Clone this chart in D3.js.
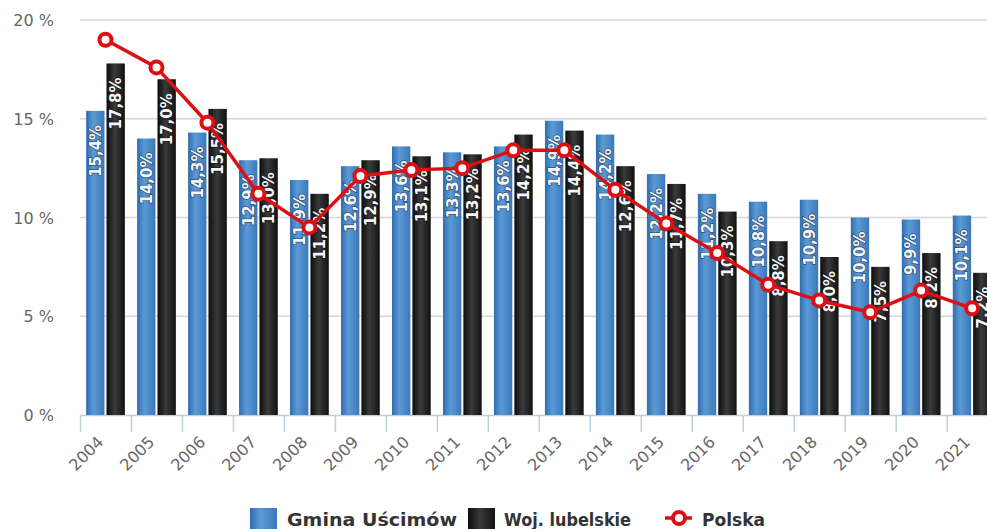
<!DOCTYPE html>
<html>
<head>
<meta charset="utf-8">
<script src="https://cdn.jsdelivr.net/npm/d3@7"></script>
<style>
  html, body { margin: 0; padding: 0; background: #fff; overflow: hidden; }
  svg { display: block; }
</style>
</head>
<body>
<svg id="chart" width="987" height="529"></svg>
<script>
const years = ["2004","2005","2006","2007","2008","2009","2010","2011","2012","2013","2014","2015","2016","2017","2018","2019","2020","2021"];
const gmina = [15.4,14.0,14.3,12.9,11.9,12.6,13.6,13.3,13.6,14.9,14.2,12.2,11.2,10.8,10.9,10.0,9.9,10.1];
const lubelskie = [17.8,17.0,15.5,13.0,11.2,12.9,13.1,13.2,14.2,14.4,12.6,11.7,10.3,8.8,8.0,7.5,8.2,7.2];
const polska = [19.0,17.6,14.8,11.2,9.5,12.1,12.4,12.5,13.4,13.4,11.4,9.7,8.2,6.6,5.8,5.2,6.3,5.4];
const yTicks = [0,5,10,15,20];
const seriesNames = ["Gmina Uścimów","Woj. lubelskie","Polska"];

const svg = d3.select("#chart");
const plotLeft = 80, plotTop = 20, plotBottom = 415;
const step = 50.98;
const x = d3.scaleBand().domain(years).range([plotLeft, plotLeft + step * years.length]).padding(0);
const xs = d3.scaleBand().domain(["g","w"]).range([0, x.bandwidth()]).paddingInner(0.1).paddingOuter(0.3);
const y = d3.scaleLinear().domain([0,20]).range([plotBottom, plotTop]);
const fmt = v => d3.format(".1f")(v).replace(".", ",") + "%";

const defs = svg.append("defs");
const gb = defs.append("linearGradient").attr("id","gBlue").attr("x1","0").attr("x2","1").attr("y1","0").attr("y2","0");
gb.append("stop").attr("offset","0%").attr("stop-color","#2f6db0");
gb.append("stop").attr("offset","40%").attr("stop-color","#5c9ad6");
gb.append("stop").attr("offset","100%").attr("stop-color","#3b78ba");
const gk = defs.append("linearGradient").attr("id","gBlack").attr("x1","0").attr("x2","1").attr("y1","0").attr("y2","0");
gk.append("stop").attr("offset","0%").attr("stop-color","#0d0d0d");
gk.append("stop").attr("offset","45%").attr("stop-color","#3a3a3a");
gk.append("stop").attr("offset","100%").attr("stop-color","#111");

// grid
svg.append("g").selectAll("line").data(yTicks.filter(d => d > 0)).join("line")
  .attr("x1", plotLeft).attr("x2", 1000)
  .attr("y1", d => y(d)).attr("y2", d => y(d))
  .attr("stroke", "#d6d6d6").attr("stroke-width", 1.5);

// y labels
svg.append("g").selectAll("text").data(yTicks).join("text")
  .attr("x", 54).attr("y", d => y(d) + 6)
  .attr("text-anchor", "end")
  .attr("font-family", "DejaVu Sans, sans-serif").attr("font-size", 16).attr("fill", "#666")
  .text(d => d + " %");

// x axis
const xa = svg.append("g");
xa.append("line").attr("x1", plotLeft).attr("x2", 1000).attr("y1", plotBottom + 0.5).attr("y2", plotBottom + 0.5)
  .attr("stroke", "#c0cfdd").attr("stroke-width", 1.5);
xa.selectAll("line.tick").data(years).join("line").attr("class","tick")
  .attr("x1", d => x(d) + 0.5).attr("x2", d => x(d) + 0.5)
  .attr("y1", plotBottom).attr("y2", plotBottom + 17)
  .attr("stroke", "#c0cfdd").attr("stroke-width", 1.5);
xa.selectAll("text").data(years).join("text")
  .attr("transform", d => `translate(${x(d) + x.bandwidth()/2 - 1},${plotBottom + 28}) rotate(-45)`)
  .attr("text-anchor", "end")
  .attr("font-family", "DejaVu Sans, sans-serif").attr("font-size", 16).attr("fill", "#666")
  .text(d => d);

// bars
const rows = years.map((yr, i) => ({ yr, g: gmina[i], w: lubelskie[i], p: polska[i] }));
const bars = svg.append("g");
const barData = rows.flatMap(r => [{ yr: r.yr, k: "g", v: r.g }, { yr: r.yr, k: "w", v: r.w }]);
bars.selectAll("rect").data(barData).join("rect")
  .attr("x", d => x(d.yr) + xs(d.k))
  .attr("width", xs.bandwidth())
  .attr("y", d => y(d.v))
  .attr("height", d => y(0) - y(d.v))
  .attr("fill", d => d.k === "g" ? "url(#gBlue)" : "url(#gBlack)");

// labels
svg.append("g").selectAll("text").data(barData).join("text")
  .attr("transform", d => `translate(${x(d.yr) + xs(d.k) + xs.bandwidth()/2 + 5.5},${y(d.v) + 14}) rotate(-90)`)
  .attr("text-anchor", "end")
  .attr("font-family", "DejaVu Sans, sans-serif").attr("font-weight", "bold").attr("font-size", 15)
  .attr("fill", "#f4f6f8")
  .attr("stroke", "rgba(0,0,0,0.45)").attr("stroke-width", 1.5).attr("paint-order", "stroke")
  .text(d => fmt(d.v));

// line
const line = d3.line().x(d => x(d.yr) + x.bandwidth()/2).y(d => y(d.p));
svg.append("path").datum(rows).attr("d", line)
  .attr("fill", "none").attr("stroke", "#dd0f14").attr("stroke-width", 3.5).attr("stroke-linejoin", "round");
svg.append("g").selectAll("circle").data(rows).join("circle")
  .attr("cx", d => x(d.yr) + x.bandwidth()/2).attr("cy", d => y(d.p))
  .attr("r", 6).attr("fill", "#fff").attr("stroke", "#dd0f14").attr("stroke-width", 4);

// legend
const lg = svg.append("g").attr("font-family", "DejaVu Sans, sans-serif").attr("font-weight", "bold").attr("font-size", 18).attr("fill", "#333");
lg.append("rect").attr("x", 250).attr("y", 508).attr("width", 27).attr("height", 21).attr("fill", "url(#gBlue)");
lg.append("text").attr("x", 287).attr("y", 526).attr("textLength", 170).attr("lengthAdjust", "spacingAndGlyphs").text(seriesNames[0]);
lg.append("rect").attr("x", 468).attr("y", 508).attr("width", 27).attr("height", 21).attr("fill", "url(#gBlack)");
lg.append("text").attr("x", 504).attr("y", 526).attr("textLength", 127).attr("lengthAdjust", "spacingAndGlyphs").text(seriesNames[1]);
lg.append("line").attr("x1", 665).attr("x2", 692).attr("y1", 518).attr("y2", 518).attr("stroke", "#dd0f14").attr("stroke-width", 3.5);
lg.append("circle").attr("cx", 679).attr("cy", 518).attr("r", 6).attr("fill", "#fff").attr("stroke", "#dd0f14").attr("stroke-width", 4);
lg.append("text").attr("x", 702).attr("y", 526).attr("textLength", 63).attr("lengthAdjust", "spacingAndGlyphs").text(seriesNames[2]);
</script>
</body>
</html>
